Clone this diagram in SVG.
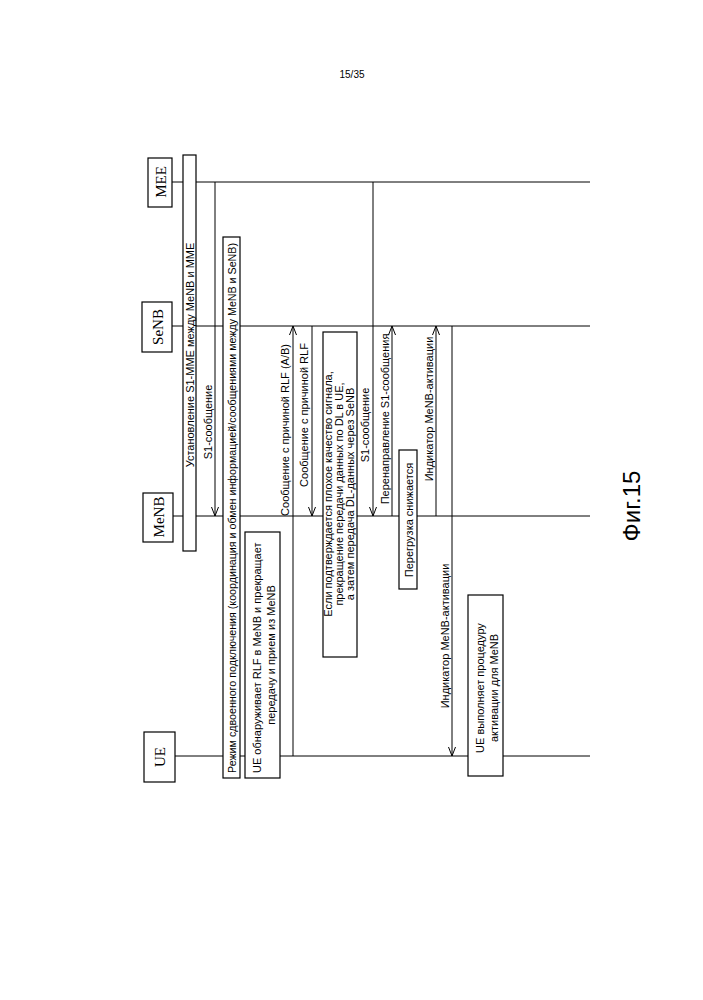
<svg xmlns="http://www.w3.org/2000/svg" width="703" height="1000" viewBox="0 0 703 1000">
<style>
.t{font-family:"Liberation Sans",Arial,sans-serif;font-size:11px;fill:#000}
.s{font-family:"Liberation Serif","Times New Roman",serif;font-size:15px;fill:#000}
.b{fill:#fff;stroke:#000;stroke-width:1.2}
.l{stroke:#000;stroke-width:1;fill:none}
.a{stroke:#000;stroke-width:1;fill:none;marker-end:url(#ar)}
</style>
<defs><marker id="ar" markerWidth="10" markerHeight="10" refX="9" refY="5" orient="auto" markerUnits="userSpaceOnUse"><path d="M0,1.5 L9,5 L0,8.5" fill="none" stroke="#000"/></marker></defs>
<rect width="703" height="1000" fill="#fff"/>
<text x="352" y="78" class="t" text-anchor="middle" style="font-size:10px">15/35</text>
<g id="lifelines">
<line class="l" x1="172" y1="182" x2="590" y2="182"/>
<line class="l" x1="172" y1="326" x2="590" y2="326"/>
<line class="l" x1="173" y1="516" x2="590" y2="516"/>
<line class="l" x1="175" y1="756" x2="590" y2="756"/>
</g>
<g id="MEE"><rect class="b" x="148" y="158" width="24" height="49"/><text class="s" transform="translate(166,182) rotate(-90)" text-anchor="middle">MEE</text></g>
<g id="SeNB"><rect class="b" x="142" y="302" width="30" height="50"/><text class="s" transform="translate(163,327) rotate(-90)" text-anchor="middle">SeNB</text></g>
<g id="MeNB"><rect class="b" x="143" y="493" width="30" height="49"/><text class="s" transform="translate(164,517) rotate(-90)" text-anchor="middle">MeNB</text></g>
<g id="UE"><rect class="b" x="144" y="732" width="31" height="50"/><text class="s" transform="translate(165,757) rotate(-90)" text-anchor="middle">UE</text></g>
<g id="s1mme"><rect class="b" x="183" y="155" width="13" height="396"/><text class="t" transform="translate(194,355) rotate(-90)" text-anchor="middle">Установление S1-MME между MeNB и MME</text></g>
<g id="dual"><rect class="b" x="223" y="237" width="17" height="541"/><text class="t" transform="translate(236,773) rotate(-90)" textLength="530" lengthAdjust="spacingAndGlyphs">Режим сдвоенного подключения (координация и обмен информацией/сообщениями между MeNB и SeNB)</text></g>
<g id="ueRlf"><rect class="b" x="245" y="532" width="35" height="246"/><text class="t" transform="translate(261,773) rotate(-90)">UE обнаруживает RLF в MeNB и прекращает</text><text class="t" transform="translate(275,655) rotate(-90)" text-anchor="middle">передачу и прием из MeNB</text></g>
<g id="ifBox"><rect class="b" x="323" y="332" width="34" height="325"/><text class="t" transform="translate(332,494) rotate(-90)" text-anchor="middle">Если подтверждается плохое качество сигнала,</text><text class="t" transform="translate(343,494) rotate(-90)" text-anchor="middle">прекращение передачи данных по DL в UE,</text><text class="t" transform="translate(354,494) rotate(-90)" text-anchor="middle">а затем передача DL-данных через SeNB</text></g>
<g id="overload"><rect class="b" x="399" y="450" width="18" height="139"/><text class="t" transform="translate(413,520) rotate(-90)" text-anchor="middle">Перегрузка снижается</text></g>
<g id="ueAct"><rect class="b" x="468" y="595" width="35" height="181"/><text class="t" transform="translate(484,688) rotate(-90)" text-anchor="middle">UE выполняет процедуру</text><text class="t" transform="translate(498,688) rotate(-90)" text-anchor="middle">активации для MeNB</text></g>
<g id="connectors">
<line class="a" x1="215" y1="182" x2="215" y2="516"/>
<text class="t" transform="translate(212,422) rotate(-90)" text-anchor="middle">S1-сообщение</text>
<line class="a" x1="293" y1="756" x2="293" y2="326"/>
<text class="t" transform="translate(289,430) rotate(-90)" text-anchor="middle">Сообщение с причиной RLF (A/B)</text>
<line class="a" x1="312" y1="326" x2="312" y2="516"/>
<text class="t" transform="translate(308,415) rotate(-90)" text-anchor="middle">Сообщение с причиной RLF</text>
<line class="a" x1="373" y1="182" x2="373" y2="516"/>
<text class="t" transform="translate(369,425) rotate(-90)" text-anchor="middle">S1-сообщение</text>
<line class="a" x1="392" y1="516" x2="392" y2="326"/>
<text class="t" transform="translate(389,419) rotate(-90)" text-anchor="middle">Перенаправление S1-сообщения</text>
<line class="a" x1="436" y1="516" x2="436" y2="326"/>
<text class="t" transform="translate(433,409) rotate(-90)" text-anchor="middle">Индикатор MeNB-активации</text>
<line class="a" x1="452" y1="326" x2="452" y2="756"/>
<text class="t" transform="translate(449,636) rotate(-90)" text-anchor="middle">Индикатор MeNB-активации</text>
</g>
<text class="t" transform="translate(640,506) rotate(-90)" text-anchor="middle" style="font-size:24px">Фиг.15</text>
</svg>
